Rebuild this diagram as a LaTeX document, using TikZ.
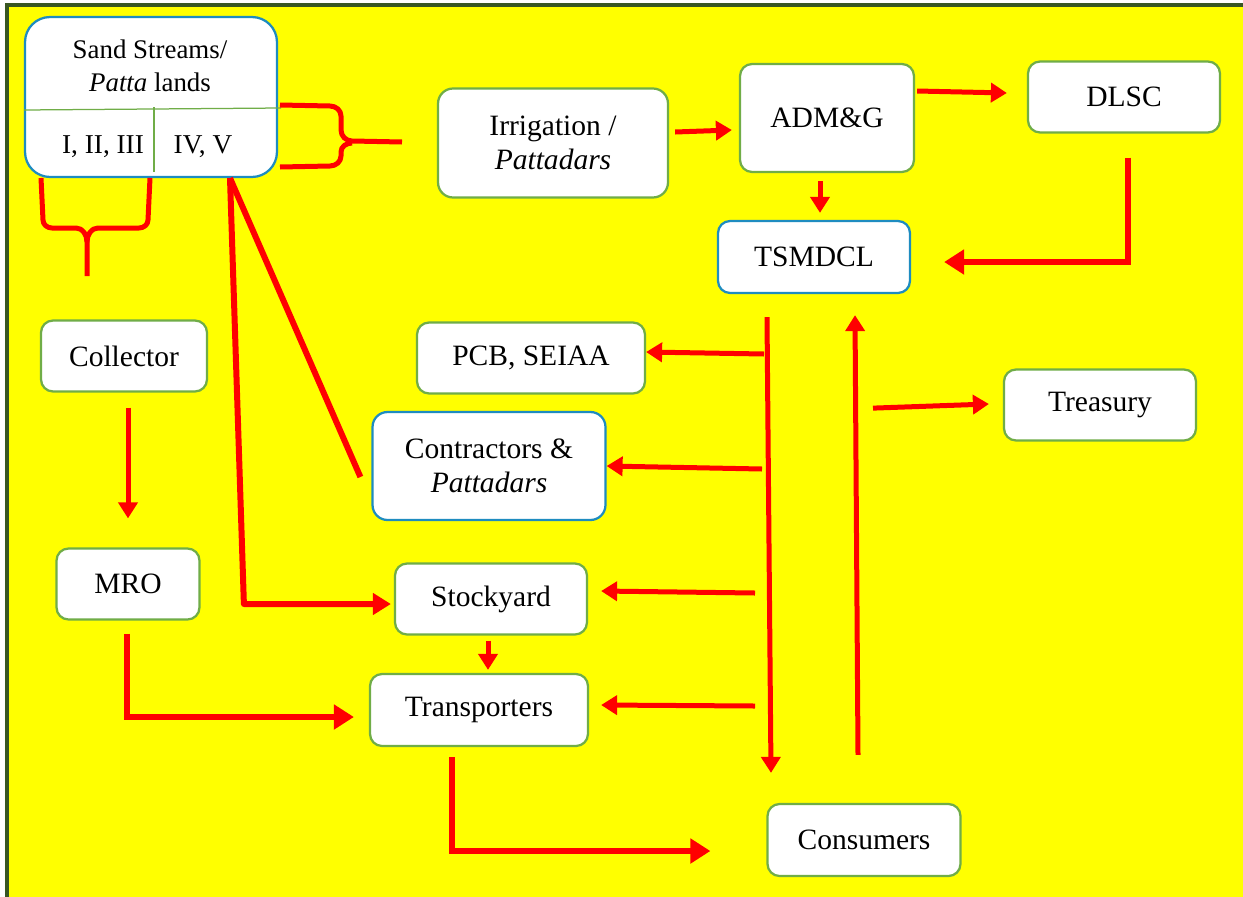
\documentclass[tikz,border=0pt]{standalone}
\usepackage{fontspec}
\setmainfont{Liberation Serif}
\usetikzlibrary{arrows.meta,calc}

\definecolor{boxgreen}{RGB}{112,173,71}
\definecolor{boxblue}{RGB}{30,140,192}
\definecolor{framegreen}{RGB}{56,86,35}
\definecolor{bgyellow}{RGB}{255,255,0}

\begin{document}
\begin{tikzpicture}[
            x=0.02cm, y=-0.02cm,
            box/.style={rectangle, draw=boxgreen, line width=0.045cm, fill=white, rounded corners=0.24cm, align=center, font=\fontsize{16.8}{19}\selectfont},
            bluebox/.style={box, draw=boxblue},
            arrow/.style={-{Triangle[width=0.38cm,length=0.32cm]}, red, line width=0.1cm},
            bigarrow/.style={-{Triangle[width=0.48cm,length=0.4cm]}, red, line width=0.13cm},
            redline/.style={red, line width=0.12cm, line join=round}
            ]
            \useasboundingbox (0,0) rectangle (1243,896);
            \fill[white] (-10,-10) rectangle (1260,910);
            \fill[bgyellow] (7,5) rectangle (1260,910);
            \draw[framegreen, line width=0.08cm] (7,910) -- (7,5) -- (1260,5);

            % Source
            \node[bluebox, rounded corners=0.5cm, minimum width=5.04cm, minimum height=3.2cm] (sand) at (151,97) {};
            \node[font=\fontsize{15.3}{18.5}\selectfont, align=center] (sandtop) at (150,66) {Sand Streams/\\\textit{Patta} lands};
            \node[font=\fontsize{15.5}{18}\selectfont] (sandl) at (103,147) {I, II, III};
            \node[font=\fontsize{15.5}{18}\selectfont] (sandr) at (203,147) {IV, V};
            \draw[boxgreen, line width=0.025cm] (sand.west |- 0,110) -- (281,108);
            \draw[boxgreen, line width=0.025cm] (154,107) -- (154,172);

            % Main boxes
            \node[box, rounded corners=0.3cm, minimum width=4.6cm, minimum height=2.18cm] (irr) at (553,143) {Irrigation /\\\textit{Pattadars}};
            \node[box, minimum width=3.48cm, minimum height=2.16cm] (adm) at (827,118) {ADM\&G};
            \node[box, minimum width=3.84cm, minimum height=1.42cm] (dlsc) at (1124,97) {DLSC};
            \node[bluebox, minimum width=3.84cm, minimum height=1.44cm] (tsm) at (814,257) {TSMDCL};
            \node[box, minimum width=3.32cm, minimum height=1.42cm] (coll) at (124,356) {Collector};
            \node[box, minimum width=4.56cm, minimum height=1.42cm] (pcb) at (531,358) {PCB, SEIAA};
            \node[box, minimum width=3.84cm, minimum height=1.42cm] (treas) at (1100,405) {Treasury};
            \node[bluebox, rounded corners=0.3cm, minimum width=4.66cm, minimum height=2.16cm] (con) at (489,466) {Contractors \&\\\textit{Pattadars}};
            \node[box, minimum width=2.86cm, minimum height=1.42cm] (mro) at (128,584) {MRO};
            \node[box, minimum width=3.84cm, minimum height=1.42cm] (stock) at (491,599) {Stockyard};
            \node[box, minimum width=4.36cm, minimum height=1.44cm] (trans) at (479,710) {Transporters};
            \node[box, minimum width=3.86cm, minimum height=1.44cm] (cons) at (864,840) {Consumers};

            % Braces
            \draw[redline, line width=0.1cm] (280,105) -- (330,106) to[out=0,in=90] (341,116) -- (341,130)
                to[out=-90,in=180] (352,141) -- (402,142);
            \draw[redline, line width=0.1cm] (280,167) -- (330,166) to[out=0,in=-90] (341,156) -- (341,152)
                to[out=90,in=180] (352,143);
            \draw[redline, line width=0.1cm] (41,178) -- (43,220) to[out=-90,in=180] (52,228) -- (76,228)
                to[out=0,in=90] (87,242) -- (87,276);
            \draw[redline, line width=0.1cm] (150,178) -- (148,220) to[out=-90,in=0] (139,228) -- (98,228)
                to[out=180,in=90] (87,242);

            % Arrows
            \coordinate (apex) at ($(sand.south)+(79,0)$);
            \draw[redline] (apex) -- ($(con.west)+(-11,11)$);
            \draw[redline, -{Triangle[width=0.42cm,length=0.36cm]}] (apex) -- ($(stock.west)+(-150,5)$) -- ($(stock.west)+(-3,5)$);
            \draw[arrow] ($(irr.east)+(6,-11)$) -- ($(adm.west)+(-7,12)$);
            \draw[arrow] ($(adm.east)+(2,-27)$) -- ($(dlsc.west)+(-20,-4)$);
            \draw[arrow] ($(adm.south)+(-7,8)$) -- ($(tsm.north)+(6,-7)$);
            \draw[bigarrow] ($(dlsc.south)+(4,24)$) |- ($(tsm.east)+(33,5)$);
            \draw[arrow] ($(tsm.south)+(-47,23)$) -- ($(cons.north)+(-93,-30)$);
            \coordinate (b1) at (764,354);
            \coordinate (b2) at (762,469);
            \coordinate (b3) at (755,593);
            \coordinate (b4) at (755,706);
            \draw[arrow] (b1) -- ($(pcb.east)+(0,-6)$);
            \draw[arrow] (b2) -- ($(con.east)+(0,0)$);
            \draw[arrow] (b3) -- ($(stock.east)+(13,-8)$);
            \draw[arrow] (b4) -- ($(trans.east)+(12,-5)$);
            \draw[arrow] ($(cons.north)+(-6,-48)$) -- ($(tsm.south)+(41,21)$);
            \draw[arrow] ($(tsm.south)+(59,114)$) -- ($(treas.west)+(-14,-1)$);
            \draw[arrow] ($(coll.south)+(4,15)$) -- ($(mro.north)+(0,-29)$);
            \draw[bigarrow] ($(mro.south)+(-1,13)$) |- ($(trans.west)+(-15,7)$);
            \draw[arrow] ($(stock.south)+(-3,5)$) -- ($(trans.north)+(9,-3)$);
            \draw[bigarrow] ($(trans.south)+(-27,10)$) |- ($(cons.west)+(-56,11)$);

        \end{tikzpicture}
\end{document}
